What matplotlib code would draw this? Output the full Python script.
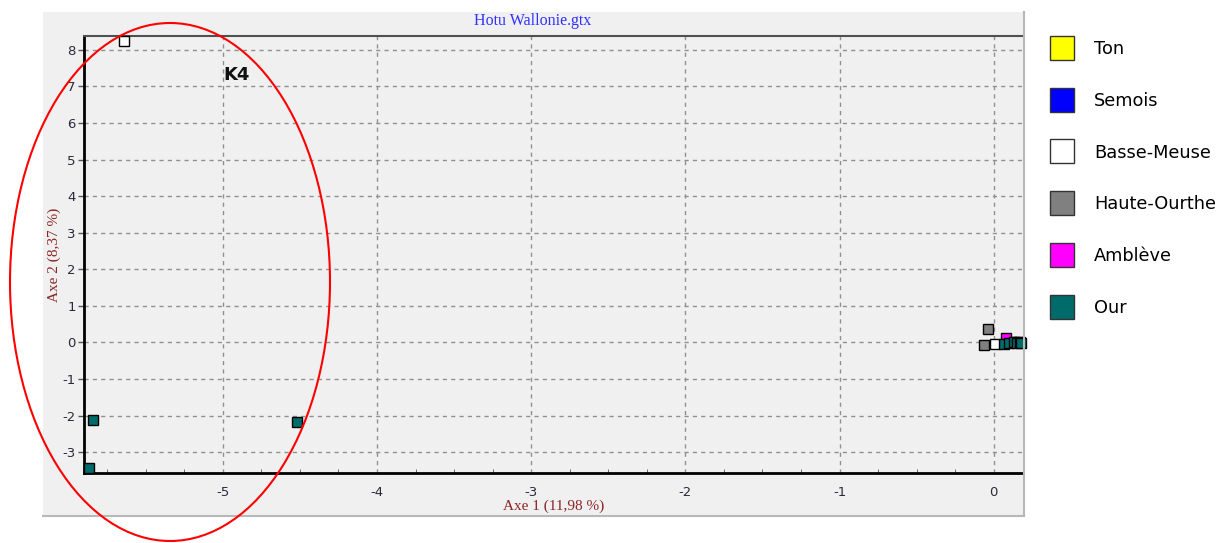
import numpy as np
import matplotlib.pyplot as plt
from matplotlib.patches import Rectangle, Ellipse
from matplotlib.lines import Line2D

plt.rcParams['axes.unicode_minus'] = False

# ------------------------------------------------------------------
# data (factor coordinates, axes 1 and 2)
# ------------------------------------------------------------------
groups = ['Ton', 'Semois', 'Basse-Meuse', 'Haute-Ourthe', 'Amblève', 'Our']
colors = ['#ffff00', '#0000ff', '#ffffff', '#808080', '#ff00ff', '#006b6b']

ton_x = [0.11]
ton_y = [0.02]
semois_x = [0.16]
semois_y = [0.01]
basse_meuse_x = [-5.64, 0.01]
basse_meuse_y = [8.25, -0.05]
haute_ourthe_x = [-0.035, -0.06]
haute_ourthe_y = [0.37, -0.08]
ambleve_x = [0.08]
ambleve_y = [0.11]
our_x = [-5.84, -4.52, -5.87, 0.07, 0.10, 0.13, 0.15, 0.17, 0.18]
our_y = [-2.12, -2.17, -3.43, -0.03, -0.02, 0.00, -0.02, 0.00, -0.01]

series = {
    'Ton': (ton_x, ton_y),
    'Semois': (semois_x, semois_y),
    'Haute-Ourthe': (haute_ourthe_x, haute_ourthe_y),
    'Basse-Meuse': (basse_meuse_x, basse_meuse_y),
    'Amblève': (ambleve_x, ambleve_y),
    'Our': (our_x, our_y),
}

x_ticks = [-5, -4, -3, -2, -1, 0]
y_ticks = [-3, -2, -1, 0, 1, 2, 3, 4, 5, 6, 7, 8]

W, H = 1228, 543
fig = plt.figure(figsize=(W / 100, H / 100), dpi=100)
fig.patch.set_facecolor('white')

# gray panel behind the plot
panel_bg = '#f0f0f0'
fig.add_artist(Rectangle((43 / W, 1 - 516 / H), (1024 - 43) / W, (516 - 12) / H,
                         transform=fig.transFigure, facecolor=panel_bg,
                         edgecolor='none', zorder=0))
fig.add_artist(Line2D([43 / W, 1024 / W], [1 - 516 / H, 1 - 516 / H],
                      transform=fig.transFigure, color='#b8b8b8', lw=1.5))
fig.add_artist(Line2D([1024 / W, 1024 / W], [1 - 516 / H, 1 - 12 / H],
                      transform=fig.transFigure, color='#b8b8b8', lw=1.5))

ax = fig.add_axes([84 / W, 1 - 473 / H, (1023 - 84) / W, (473 - 36) / H])
ax.set_facecolor(panel_bg)

color_map = dict(zip(groups, colors))
for name in series:
    xs, ys = series[name]
    ax.plot(xs, ys, 's', color=color_map[name], mec='black', mew=1.0,
            ms=7, clip_on=False, zorder=3)

ax.set_xlim(-5.90, 0.19)
ax.set_ylim(-3.57, 8.38)
ax.set_xticks(x_ticks)
ax.set_yticks(y_ticks)
ax.set_xticks(np.arange(-5.75, 0.2, 0.25), minor=True)

ax.grid(True, color='#909090', ls=(0, (3, 3)), lw=1)
ax.set_axisbelow(True)

ax.spines['left'].set_linewidth(2)
ax.spines['bottom'].set_linewidth(2)
ax.spines['top'].set_color('#505050')
ax.spines['top'].set_linewidth(1.5)
ax.spines['right'].set_visible(False)

tick_col = '#2a2a3a'
ax.tick_params(axis='x', which='major', length=0, pad=9, labelsize=9.5, labelcolor=tick_col)
ax.tick_params(axis='x', which='minor', direction='in', length=3, color='#555555')
ax.tick_params(axis='y', which='major', length=4, width=1, pad=2, labelsize=9.5,
               labelcolor=tick_col, color='#555555')

ax.set_title('Hotu Wallonie.gtx', family='Liberation Serif', fontsize=11.5,
             color='#3030ff', x=(533 - 84) / (1023 - 84), y=1.0, pad=8)
ax.set_xlabel('Axe 1 (11,98 %)', family='Liberation Serif', fontsize=11,
              color='#8b2525', labelpad=1)
ax.set_ylabel('Axe 2 (8,37 %)', family='Liberation Serif', fontsize=11,
              color='#8b2525', labelpad=1)

# annotation: red ellipse around the K4 group
fig.add_artist(Ellipse((170 / W, 1 - 282 / H), 320 / W, 518 / H,
                       transform=fig.transFigure, fill=False,
                       edgecolor='red', lw=1.5, zorder=5))
fig.text(237 / W, 1 - 75 / H, 'K4', fontsize=13, fontweight='bold',
         ha='center', va='center', color='#111111')

# legend on the right
handles = [Line2D([], [], marker='s', ls='none', ms=17, mfc=c, mec='#333333', mew=1)
           for c in colors]
fig.legend(handles, groups, loc='upper left', bbox_to_anchor=(1037 / W, 1 - 33 / H),
           frameon=False, fontsize=12.8, labelspacing=1.9, handletextpad=0.8,
           borderaxespad=0)

fig.savefig('out.png', dpi=100)
